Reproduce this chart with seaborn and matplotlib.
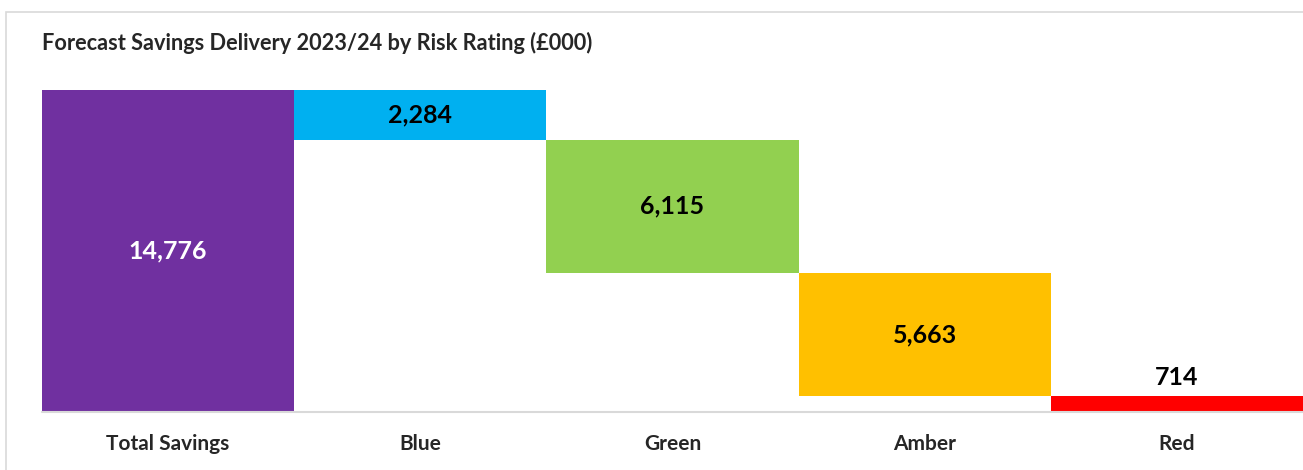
import matplotlib
matplotlib.use("Agg")
import matplotlib.pyplot as plt
import seaborn as sns
from matplotlib.patches import Rectangle

# Waterfall data (£000)
categories = ["Total Savings", "Blue", "Green", "Amber", "Red"]
values = [14776, 2284, 6115, 5663, 714]
colors = ["#7030A0", "#00B0F0", "#92D050", "#FFC000", "#FF0000"]

# Bottoms: total starts at 0, each risk step walks down from the total
bottoms = [0]
level = values[0]
for v in values[1:]:
    level -= v
    bottoms.append(level)
tops = [b + v for b, v in zip(bottoms, values)]

sns.set_style("white")
plt.rcParams["font.family"] = ["Lato", "DejaVu Sans"]

fig = plt.figure(figsize=(13.03, 4.70), dpi=100)
ax = fig.add_axes([42 / 1303, 1 - 412 / 470, 1 - 42 / 1303, 322 / 470])

# coloured bars up to the top of each step, white bars hide what lies below
sns.barplot(x=categories, y=tops, hue=categories, palette=colors,
            width=1.0, legend=False, ax=ax, linewidth=0, saturation=1)
sns.barplot(x=categories, y=bottoms, color="white", width=1.0, ax=ax,
            linewidth=0, saturation=1)

ax.set_ylim(0, values[0])
ax.set_xlim(-0.5, len(categories) - 0.5)
ax.axhline(0, color="#d9d9d9", linewidth=1.5, zorder=5, clip_on=False)
for s in ax.spines.values():
    s.set_visible(False)
ax.set_yticks([])
ax.set_xlabel("")
ax.set_ylabel("")
ax.tick_params(axis="x", length=0, pad=16)
for lbl in ax.get_xticklabels():
    lbl.set_fontsize(15)
    lbl.set_fontweight("bold")

# Value labels
for i, (v, b) in enumerate(zip(values, bottoms)):
    text = f"{v:,}"
    if i == len(values) - 1:
        ax.text(i, b + v + 870, text, ha="center", va="center",
                fontsize=18, fontweight="bold", color="black")
    else:
        ax.text(i, b + v / 2, text, ha="center", va="center", fontsize=18,
                fontweight="bold", color="white" if i == 0 else "black")

fig.text(42 / 1303, 1 - 43 / 470, "Forecast Savings Delivery 2023/24 by Risk Rating (£000)",
         ha="left", va="center", fontsize=15.7, fontweight="bold")

# Light frame round the chart area
fig.patches.append(Rectangle((6 / 1303, -0.05), 1.05, 1 - 12 / 470 + 0.05,
                             transform=fig.transFigure, fill=False,
                             edgecolor="#d9d9d9", linewidth=1.2))

fig.savefig("out.png", dpi=100)
